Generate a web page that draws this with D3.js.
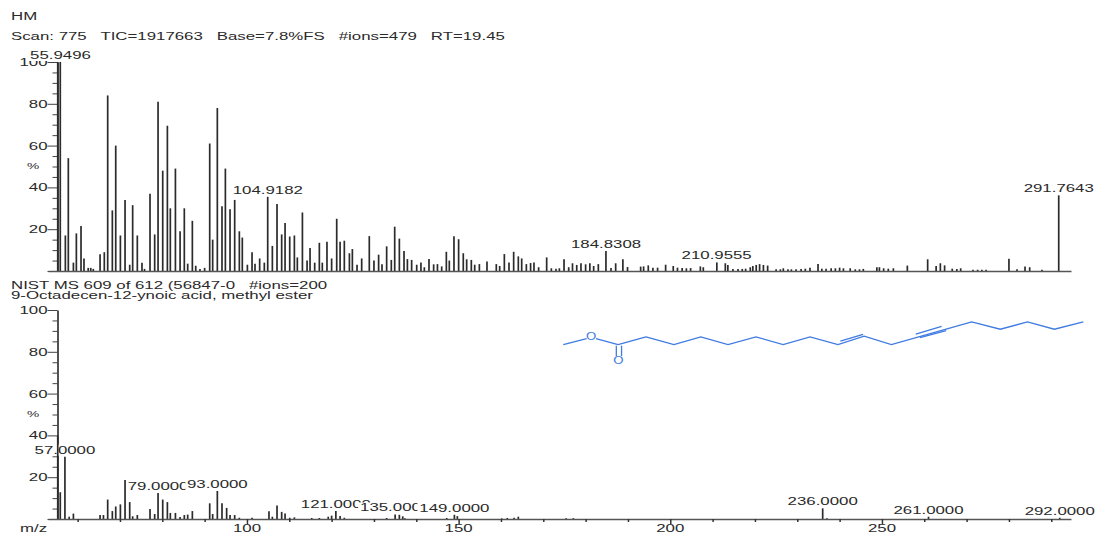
<!DOCTYPE html>
<html>
<head>
<meta charset="utf-8">
<script src="https://cdn.jsdelivr.net/npm/d3@7"></script>
<style>
  body { margin: 0; background: #fff; }
  svg { display: block; }
  text { font-family: "Liberation Sans", Arial, sans-serif; font-size: 11px; fill: #2a2a2a; white-space: pre; }
</style>
</head>
<body>
<svg id="chart" width="1096" height="533"></svg>
<script>
var headerLines = ["HM", "Scan: 775   TIC=1917663   Base=7.8%FS   #ions=479   RT=19.45"];
var libraryLines = ["NIST MS 609 of 612 (56847-0   #ions=200", "9-Octadecen-12-ynoic acid, methyl ester"];

var topMz = [55.3,55.9,57.1,57.8,59,59.7,60.8,61.5,62.5,63.1,63.7,65.3,66.3,67.1,68.2,69,70.1,71.2,72.3,73,74.1,75.2,75.8,77.1,78.2,79,80.1,81.2,81.9,83.1,84.2,85.2,86,87.1,87.9,88.9,90,91.2,91.9,93,94.1,94.9,96,97.1,98.2,98.9,100.1,101.2,101.9,103,104.1,104.9,106,107.1,108.2,109,110.1,111.2,111.9,113.1,114.2,114.9,116,117.1,117.8,118.9,120,121.2,122,123,124.2,124.9,126,127.1,128.9,130,131.1,131.9,133,134.1,134.9,136,137.1,137.9,138.9,140.1,141.1,141.9,143,144.1,145,146,147.1,147.8,148.9,150,151.1,151.9,153,153.8,154.9,156.7,158.9,159.7,160.8,161.9,163,164.1,164.9,166,167,167.8,168.9,170.8,171.9,173,173.8,174.9,176,176.9,177.9,178.9,180,181,181.9,183,184.8,186,187.1,188.8,189.9,193,193.7,194.8,195.9,197,198.9,200.7,201.7,202.8,203.8,204.8,207.1,207.8,211,213,213.6,214.8,216,217,217.8,218.9,219.5,220.3,221.1,222,223,225,226,226.7,227.8,228.6,229.7,230.9,231.9,233,234.9,235.8,236.8,238,239,240,240.9,242.5,243.7,244.7,245.6,248.8,249.4,250.4,251.5,252.7,256,260.8,262.8,263.8,264.8,266.6,267.7,268.6,271.5,272.6,273.6,274.6,280,281.9,283.8,284.9,287.8,291.76];
var topPct = [100,100,17,54,4,18,21.5,6,1.5,1.5,1,8,9,84,29,60,17,34,3,31.5,17,4,1,37,17.5,81,48,69.5,30,49,19,30,3.5,24,2.5,1,1.5,61,15,78,31,49,29.5,34,19,16,3,9,3.5,6,4,35.5,12,32,17.5,23,16.5,17,6.5,28,5,11,4,13.5,4,14,6,25,14,14.5,8.5,10.5,3,6,16.7,5,7.8,3.2,11.8,5.3,21.2,15.5,9.6,5.7,5.3,3,4.1,1.8,5.7,3.2,3.3,2.2,9.2,5,16.6,15.2,8.5,5.6,5.3,3,3.3,4.6,3.3,2.4,8.1,4.1,9.2,7,6,3.3,3.8,4.1,1.8,6.5,1.3,1.1,1.3,5.6,1.8,3.7,2.9,3.7,3.2,3.7,2.4,3.3,9.6,1.4,3.7,5.6,1.9,2.1,2.2,2.7,1.6,1.6,3,2.4,1.6,1.4,1.3,1.4,2.2,1.8,4.1,3.7,2.9,1,1,1,1.1,1.8,2.4,2.9,3.3,2.9,2.6,0.8,0.8,1.3,0.8,0.8,0.8,1,1.1,1.6,3.3,1.1,1.1,1.3,1.3,1.6,1.3,1.3,0.8,0.8,1,1.8,1.8,1.3,1.1,1.3,2.6,5.6,2.4,3.7,2.7,1.1,1,1.3,0.6,0.6,0.6,0.6,5.9,0.8,2.2,1.8,0.6,36.2];
var topLabels = [55.9496, 104.9182, 184.8308, 210.9555, 291.7643];

var nistMz = [55.3,55.9,57,58,59,65.3,66.1,67.1,68.2,69,70.1,71.2,72.3,73,74.1,77.1,78.2,79,80.1,81.2,81.9,83.1,84.2,85.2,86,87.1,91.2,91.9,93,94.1,95.2,96,97.1,98.2,101.2,105.2,106,107.1,108.2,109,110.1,111.2,115.3,117.1,119.2,120,121,122,123,133,135,136,136.8,137.3,147.2,149,149.7,160.2,161.5,163.1,164.1,175.4,177.1,236,237,261,292];
var nistPct = [40,12.8,29.8,1.1,2.6,1.9,1.9,9.3,3.8,6,7,18.7,8.1,1.3,1.9,4.8,2.4,12.4,9.3,8.1,2.9,2.9,1,1.9,2.1,3.8,7.5,2.4,13.4,7.5,5.3,1.9,1.9,0.6,0.6,3.7,1.1,6.5,3.4,2.6,0.6,0.8,0.5,0.5,1.1,1.6,3.8,1.4,0.6,0.5,2.2,2,1.3,0.4,0.5,2,1.4,0.3,0.5,0.6,1.1,0.4,0.4,5.1,0.3,1.1,0.6];
var nistLabels = [57, 79, 93, 121, 135, 149, 236, 261, 292];

// skeleton of the molecule, in its own drawing units
var chainX = [275,355,432,510,590,668,745,825,900,978,1135,1208,1290,1368,1445,1528];
var chainY = [80,102,80,102,80,102,80,102,78,102,58,37,58,37,58,37];

var stretch = 1.53;   // the instrument printout has wide, squat glyphs
var svg = d3.select('#chart');

var x = d3.scaleLinear().domain([53, 294.66]).range([48, 1071]);
var yTop = d3.scaleLinear().domain([0, 100]).range([271, 62]);
var yLow = d3.scaleLinear().domain([0, 100]).range([519, 310]);

function wideText(parent, px, py, str, anchor){
  return parent.append('text')
    .attr('transform', 'translate(' + px + ',' + py + ') scale(' + stretch + ',1)')
    .attr('text-anchor', anchor || 'start')
    .text(str);
}

function drawPanel(mz, pct, labels, y, digits){
  var g = svg.append('g');

  var yAxis = d3.axisLeft(y)
    .tickValues(d3.range(0, 101, 5))
    .tickSizeOuter(0)
    .tickFormat('');
  var ya = g.append('g')
    .attr('transform', 'translate(57.5,0)')
    .call(yAxis);
  ya.select('.domain').attr('stroke', '#333').attr('stroke-width', 1.7);
  ya.selectAll('.tick line')
    .attr('stroke', '#444')
    .attr('x2', function(d){ return d % 20 == 0 ? -10 : -5; });
  ya.selectAll('.tick text').remove();
  d3.range(20, 101, 20).forEach(function(d){
    wideText(g, 47.5, y(d) + 4, d, 'end');
  });
  wideText(g, 27, y(50) + 2, '%').style('font-size', '9px');

  // later labels blank out whatever the earlier ones left under them
  labels.forEach(function(m){
    var i = d3.least(d3.range(mz.length), function(k){ return Math.abs(mz[k] - m); });
    var str = m.toFixed(digits);
    var w = str.length == 8 ? 70 : 60;
    var py = y(pct[i]) - 3;
    g.append('rect')
      .attr('x', x(m) - w / 2 - 2).attr('y', py - 9)
      .attr('width', w + 4).attr('height', 11)
      .attr('fill', '#fff');
    wideText(g, x(m), py, str, 'middle');
  });

  g.selectAll('.peak')
    .data(mz)
    .join('line')
    .attr('class', 'peak')
    .attr('x1', function(d){ return x(d); })
    .attr('x2', function(d){ return x(d); })
    .attr('y1', y(0))
    .attr('y2', function(d, i){ return y(pct[i]); })
    .attr('stroke', '#2b2b2b')
    .attr('stroke-width', 1.7);
  return g;
}

headerLines.forEach(function(s, i){
  wideText(svg, 11, i == 0 ? 20 : 40, s);
});
libraryLines.forEach(function(s, i){
  wideText(svg, 11, 289 + i * 10, s);
});

var topPanel = drawPanel(topMz, topPct, topLabels, yTop, 4);
var lowPanel = drawPanel(nistMz, nistPct, nistLabels, yLow, 4);

// top baseline is bare, the lower one carries the m/z ticks
var topBase = topPanel.append('g')
  .attr('transform', 'translate(0,' + yTop(0) + ')')
  .call(d3.axisBottom(x).tickValues([]).tickSizeOuter(0));
topBase.select('.domain').attr('stroke', '#555').attr('stroke-width', 1.3);

var lowBase = lowPanel.append('g')
  .attr('transform', 'translate(0,' + yLow(0) + ')')
  .call(d3.axisBottom(x).tickValues(d3.range(60, 291, 10)).tickSizeOuter(0).tickFormat(''));
lowBase.select('.domain').attr('stroke', '#555').attr('stroke-width', 1.3);
lowBase.selectAll('.tick line')
  .attr('stroke', '#333').attr('stroke-width', 1.5)
  .attr('y2', function(d){ return d % 50 == 0 ? 5 : 3; });
lowBase.selectAll('.tick text').remove();
[100, 150, 200, 250].forEach(function(d){
  wideText(svg, x(d), 532, d, 'middle');
});
wideText(svg, 20, 532, 'm/z');

// molecule
var sx = d3.scaleLinear().domain([0, 2.865]).range([550, 551]);
var sy = d3.scaleLinear().domain([0, 2.865]).range([309, 310]);
var mol = svg.append('g')
  .attr('fill', 'none')
  .attr('stroke', '#3f7be0')
  .attr('stroke-width', 1.3);
var chainLine = d3.line()
  .x(function(d){ return sx(d[0]); })
  .y(function(d){ return sy(d[1]); });
mol.append('path').attr('d', chainLine(d3.zip(chainX, chainY)));
[
  [[38,102],[105,85]],
  [[132,85],[195,102]],
  [[195,102],[275,80]],
  [[190,105],[190,135]],
  [[205,105],[205,135]],
  [[832,92],[897,73]],
  [[1048,72],[1122,50]],
  [[1060,82],[1135,62]]
].forEach(function(b){
  mol.append('path').attr('d', chainLine(b));
});
[[118,78],[196,147]].forEach(function(o){
  mol.append('text')
    .attr('transform', 'translate(' + sx(o[0]) + ',' + (sy(o[1]) + 4) + ') scale(1.2,1)')
    .attr('text-anchor', 'middle')
    .attr('stroke', 'none')
    .style('fill', '#3f7be0')
    .text('O');
});
</script>
</body>
</html>
